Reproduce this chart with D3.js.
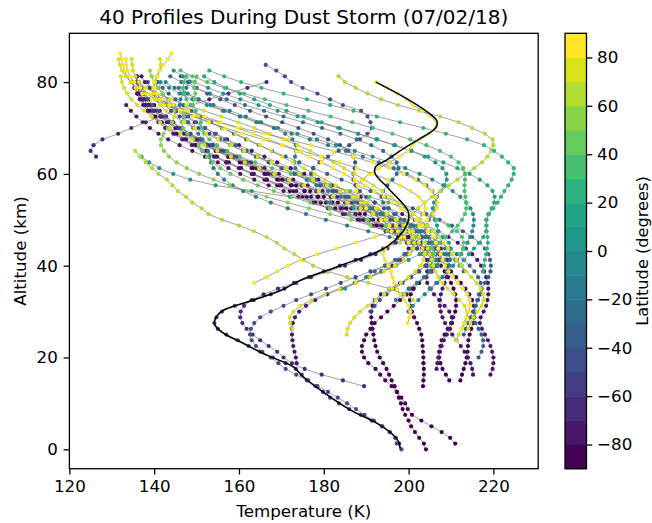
<!DOCTYPE html>
<html><head><meta charset="utf-8">
<script src="https://cdn.jsdelivr.net/npm/d3@7"></script>
<style>body{margin:0;background:#fff}svg{display:block}text{font-family:"DejaVu Sans",sans-serif;fill:#000}</style>
</head><body><svg id="c" width="652" height="523"></svg>
<script>
// Shared altitude grid (km)
const levels = [0,1.25,2.5,3.75,5,6.25,7.5,8.75,10,11.25,12.5,13.75,15,16.25,17.5,18.75,20,21.25,22.5,23.75,25,26.25,27.5,28.75,30,31.25,32.5,33.75,35,36.25,37.5,38.75,40,41.25,42.5,43.75,45,46.25,47.5,48.75,50,51.25,52.5,53.75,55,56.25,57.5,58.75,60,61.25,62.5,63.75,65,66.25,67.5,68.75,70,71.25,72.5,73.75,75,76.25,77.5,78.75,80,81.25,82.5,83.75,85,86.25];

// Latitude of each profile (degrees)
const profileLat = [-86,-84,-88,-85,-82,-78,-75,-72,-68,-71,-65,-55,-45,-38,-50,-42,-33,5,-5,15,-15,-25,0,-12,-20,68,25,62,45,38,50,32,85,80,78,75,82,72,76,86];
// Index in levels of each profile's lowest point
const profileStart = [1,0,11,12,12,13,13,14,11,15,51,0,1,20,24,28,16,32,28,32,26,30,28,31,24,36,31,26,32,34,36,34,22,36,20,19,21,21,21,29];
// Temperatures (K), bottom to top
const profileTemps = [
[211,209.8,207.8,205.4,203,200.8,199.8,199.2,198.3,197.2,196,194.5,193.3,192.2,190.5,189.5,189,189,189.5,190,191,192,193.5,195,196.5,198,199.5,201,202.5,204,205,205.5,205.5,205,204,202,199.5,196.5,193.5,190.5,187.5,184.5,181.5,178.5,175.5,172.5,169.5,166.5,163.5,160.5,157.5,154.5,152,149.5,147,145,143,141.5,140,139,138,137.2,136.5,136,135.8],
[204.1,203.6,202.5,201.5,200.6,200,199.2,198.6,198.2,197.7,197.3,196.7,196,195.4,194.8,194,193.2,192.6,192.2,191.9,191.7,191.5,191.3,191.2,191.2,191.5,192,193.5,195.5,198,200.5,202.5,204,205,205,204,202,199,195.5,192,188.5,185,181.5,178,175,172,169,166,163,160,157,154.5,152,149.5,147,145,143,141.5,140,138.8,137.8,137,136.6,136.3,136,135.9],
[203.4,203.5,203.6,203.6,203.5,203.5,203.4,203.3,203.2,203,202.5,202,201.3,200.8,200.4,200.3,200.5,201.2,202.3,203.8,205.3,206.5,207.2,207.2,206.5,204.8,202.5,199.5,196.2,193,189.7,186.5,183.3,180,176.8,173.5,170.3,167,164,161,158,155.2,152.5,150,147.6,145.4,143.4,141.6,140,138.6,137.5,136.6,136.1,135.9,135.8],
[209.6,208.8,208,207.5,207.2,207.2,207.5,207.8,208.5,209.2,210,210.5,211,211.2,211.2,211,210.6,210,209.3,208.5,207.6,206.4,205,203.2,201,198.5,195.6,192.5,189.3,186,182.7,179.3,176,172.8,169.6,166.5,163.5,160.5,157.6,154.8,152.2,149.8,147.5,145.4,143.5,141.8,140.3,139,137.8,136.8,136,135.3],
[212.2,212.6,213,213.4,213.7,213.9,214,214.1,214.4,214.8,215.2,215.5,215.6,215.4,215,214.3,213.4,212.3,211.2,210,208.8,207.5,206,204.3,202.3,200,197.4,194.6,191.6,188.5,185.3,182,178.7,175.4,172.2,169,166,163,160.2,157.5,155,152.6,150.4,148.3,146.3,144.5,142.8,141.3,140,138.8,137.8,137,136.4],
[219.3,219.8,220,220,219.7,219.3,218.7,218,217.3,216.8,217,217.7,218.3,218.6,218.8,218.8,218.7,218.3,217.8,217.1,216.2,215,213.5,211.6,209.4,207,204.3,201.5,198.5,195.3,192,188.7,185.3,182,178.7,175.4,172.2,169,166,163,160,157.2,154.5,152,149.6,147.4,145.3,143.4,141.7,140.2,138.9,137.8,137],
[215.2,215,214.6,214,213.2,212.3,211.3,210.3,209.4,208.6,208,207.6,207.4,207.4,207.6,208,208.5,209,209.3,209.4,209.2,208.6,207.6,206.2,204.3,202,199.4,196.5,193.4,190.1,186.7,183.2,179.7,176.2,172.8,169.4,166,162.8,159.7,156.7,153.8,151,148.5,146.2,144,142,140.2,138.6,137.3,136.2,135.4,134.8],
[206.6,206.8,207,207.4,207.8,208.3,209,209.8,210.3,210.2,209.6,208.5,207.2,206,205,204.4,204.2,204.4,204.5,204.2,203.4,202,200,197.5,194.6,191.4,188,184.5,181,177.5,174,170.5,167,163.6,160.3,157.5,155,152,149,146,143.3,141,139,137.3,135.8,134.5,133.4],
[189.5,184.5,179.5,175.5,172.5,170.5,169,167,165,163.2,161.8,160.8,160.3,160.4,161.2,163,165.8,169.2,173,177,181,185,188.8,192.2,195,197,198,197.8,196.5,194.3,191.5,188.3,185,181.6,178.2,174.8,171.4,168,164.8,161.6,158.6,155.7,152.9,150.3,147.8,145.5,143.4,141.5,139.8,138.4,137.4,136.6,136.1,135.9,135.9],
[173.6,173.4,173.1,172.8,172.6,172.5,172.5,172.7,173.2,174.2,175.8,178,180.8,184,187.3,190.6,193.6,196.2,198.2,199.5,200,199.6,198.3,196.3,193.8,190.8,187.5,184,180.5,177,173.5,170,166.6,163.3,160.1,157,154.1,151.4,148.9,146.6,144.5,142.6,141,139.6,138.4,137.4,136.6,136,135.5],
[126.3,125,125.7,127.8,131.5,134.6,138,141.5,145,149,153,157.5,162,166.5],
[198.3,197.8,197,195.6,193.7,191.3,188.7,186,183.6,181.5,179.8,178.1,176.3,174.8,173.4,171,168,165,162.3,159.7,157,155,154.2,154.7,156,159,163.5,167.5,170.7,173.5,176.5,180,183.8,187.5,191,194,196.5,198,198.5,198,196.5,194,191,188,185,182,179,176,173,170,167,164,161,158,155.5,153,150.5,148,146,144,142.5,141,140,139,138.5],
[197.2,196.8,195.5,193.8,191.8,189.6,187.6,185.5,183.3,181,178.5,176,173.5,171,169.3,167.5,165.5,164,163,162.6,162.8,163.6,165,167.5,170.5,173.5,177,180.5,184,187.5,191,194.5,197.5,200,202,203,203.2,202.5,200.5,198,195,192,189,186,183,180.5,178,177,177.5,179,181,183.5,186,188.5,190.3,191.3,191,190.3,188.8,184.5,181.5,178.5,175,172.3,170.8,168.8,166.3],
[213,213.5,214,214.6,215.2,215.8,216.2,216.6,217.2,218,218.8,219.3,219.4,219.2,218.8,218,216.8,215,212.8,210.2,207.3,204.2,201,197.7,194.4,191,187.6,184.2,180.8,177.5,174.2,171,167.8,164.7,161.7,158.8,156,153.4,151,148.8,146.8,145,143.4,142,140.8],
[191,192,193.2,194.8,196.6,198.6,200.6,202.4,204,205.2,206,206.2,205.8,204.8,203.2,201.2,199,196.6,194.2,192,190,188.5,187.5,187,187,187.3,187.4,187,185.8,183.8,181,177.6,174,170.2,166.4,162.6,159,155.6,152.5,150,148,146.3],
[200,202,204,205.6,206.8,207.5,207.6,207,205.8,204,201.6,198.8,195.7,192.4,189,185.5,182,178.5,175,171.6,168.3,165.1,162,159,156.2,153.5,151,148.6,146.4,144.4,142.6,141,139.6,138.4,137.4,136.6,136,135.6],
[216.5,217.2,217.6,217.6,217.2,216.5,215.8,215.4,215.4,215.8,216.4,217,217.2,217,216.4,215.5,214.4,213,211.4,209.6,207.6,205.4,203,200.4,197.6,194.7,191.7,188.6,185.5,182.4,179.3,176.2,173.2,170.2,167.3,164.5,161.8,159.2,156.7,154.3,152,149.9,148,146.2,144.6,143.2,142,141,140.2],
[207,208.5,209.5,210,209.5,208,205.5,202,197.5,192.5,187,181.5,172,163,154.5,148.5,144.5,141.2,138.8,137],
[205,206.5,208,209.3,210.5,211.5,212.4,213.2,213.9,214.5,215,215.3,215.4,215.2,214.6,213.6,212.2,210.4,208.2,205.6,202.6,199.2,195.5,191.5,187.3,182.9,178.4,173.8,169.2,164.7,160.3,156.2,152.4,149,146,143.5,141.5],
[212,213,214.2,215.4,216.6,217.6,218.3,218.4,218.3,218.8,219.6,220.2,220.3,219.8,218.6,216.8,214.4,211.5,208.2,204.6,200.7,196.6,192.4,188.1,183.8,179.5,175.3,171.2,167.3,163.6,160.2,157,154.2,151.8],
[197,198.5,200.2,202,203.6,205,206,206.5,206.4,205.8,205,204.3,204,204.2,204.8,205.6,206.3,206.6,206.4,205.6,204.2,202.2,199.6,196.5,193,189.2,185.2,181,176.7,172.4,168.2,164.1,160.2,156.6,153.3,150.4,147.9,145.8],
[190,192,194.4,196.8,199,200.8,202,202.4,202,200.8,199,197,195.2,194,193.6,194,195,196.2,197.2,197.6,197.2,196,194,191.2,187.8,183.9,179.6,175.1,170.5,165.9,161.4,157.1,153.1,149.5,146.4,143.8],
[185,187.5,190.5,193.8,197,200,202.6,204.6,206,206.8,207,206.7,206.2,205.8,205.7,206,206.7,207.6,208.5,209,208.9,208,206.3,203.8,200.6,196.8,192.6,188.1,183.4,178.6,173.8,169.1,164.6,160.3,156.3,152.7,149.5,146.8,144.6],
[213,212.5,211,208.5,205,200.5,195.5,190.5,185.5,180.5,175.8,171.5,167.5,164,161,158.5,156.5,155,154,153.4,153,152.7,152.2,151.4,150.4,149.2,148,147,146.3,146,146.2,146.8,147.6,148.4],
[200,201,202.3,203.8,205.3,206.8,208,209,209.6,209.8,209.5,208.6,207.2,205.2,202.8,200,197,193.8,190.5,187.2,184,181,178.3,176,174.3,173.3,173,173.2,173.5,173.4,172.6,170.9,168.4,165.2,161.6,157.8,154,150.5,147.4,144.8,142.7],
[198,198.2,198.6,199.2,200,201,202.3,203.8,205.5,207.5,209.5,211.5,213.5,215.5,217.3,218.6,219.5,220,219.8,218,215,211.8,207.5,202.5,197.5,193.5,190.3,187.5,185,183.5],
[217.5,217.8,218,218.3,218.5,218.7,218.6,218.4,218.3,218.4,219,220,221,221.8,222.6,223.5,224.3,224.8,224.8,223.5,222,220.2,217.8,213.8,208.8,203.5,198,192.5,187,181.5,176,170.5,165.3,160.5,156.5,153],
[201,199,195.5,190.5,185.5,181,177.5,175.3,173,170.7,168.9,166.5,163.5,160,156,152.8,151.2,149,147.5,145.6,144.3,143,141,139.5,138,136.7,135.5],
[205,205.8,206,205.5,204,201.6,198.4,194.6,190.4,186,181.4,176.8,172.4,168.2,164.4,161,158,155.6,153.8,152.5,151.5,150.5,149.2,147.8,146.8,146.5,147,148,149,149.6,149.7,149.5,149.6,150],
[212,212.8,213,212.6,211.4,209.4,206.6,203.2,199.4,195.2,190.8,186.2,181.5,176.8,172.2,167.8,163.8,160.2,157.2,154.8,153,151.8,151.2,151,150.6,149.8,148.6,147.6,147,146.8,147,147.6],
[200,198,195,191,186.5,181.5,176.5,171.5,166.5,162,157.8,154,150.6,147.7,145.3,143.5,142.3,141.6,141.6,142.2,143.2,144.2,144.8,144.8,144.2,143.2,142,140.9,140,139.4,139],
[204,205.5,207.2,208.8,210.3,211.6,212.6,213.3,213.6,213.6,213.4,213.2,213.2,213.3,213.3,212.9,211.8,210,207.4,204.2,200.4,196.2,191.6,186.7,181.6,176.4,171.2,166.1,161.2,156.6,152.5,149,146.2],
[199.8,200.2,200.4,200,199,198,197.3,196.6,196.2,195.8,195.2,194.4,194,194.5,196,198,200.3,202.5,204.4,205.8,206.6,206.8,206.4,205.4,203.8,201.6,198.8,195.4,191.4,187,182.2,177,171.6,166,160.5,155.2,150.3,146,142.4,139.4,137.2,135.6,134.4,133.6,133,132.6,132.3,132],
[200,199,197.5,195.5,193.5,191.6,190,188.8,188,187.7,188,189,190.7,193,195.5,197.8,199.8,200.8,202.5,204.8,206.3,206.6,205.3,203.2,201,199.5,197.5,195,192.3],
[185.4,185.6,186.2,187.2,188.6,190.3,192.2,194.2,196.2,198.2,200,201.6,202.8,203.5,203.7,203.3,202.4,201,199.2,197,194.5,191.7,188.7,185.5,182.2,178.8,175.3,171.8,168.3,164.8,161.4,158.1,154.9,151.8,148.9,146.2,143.7,141.4,139.4,137.6,136,134.6,133.6,132.9,132.4,132.1],
[211.3,211.8,212.5,213.3,213.8,213.8,213.2,212,210.6,209.2,208,207,206.3,205.8,205.4,205,204.5,203.7,202.5,201,199.2,197.2,195,192.7,190.3,187.8,185.3,182.8,180.3,177.8,175.3,172.8,170.2,167.6,164.9,162.1,159.2,156.2,153,149.8,146.6,143.5,140.6,138,136,134.5,133.3,132.4,131.9,131.6],
[212.5,213,213.6,214.2,214.5,214.4,213.8,212.8,211.6,210.4,209.4,208.6,208,207.5,207,206.4,205.6,204.5,203.2,201.7,200,198.2,196.3,194.2,192,189.7,187.3,184.8,182.2,179.5,176.6,173.6,170.4,167,163.4,159.6,155.7,151.8,148,144.5,141.4,138.8,136.8,135.3,134.3,133.7,133.4,133.3],
[214.1,214.6,215.3,216.2,217.2,217.7,217.6,217,216,214.8,213.6,212.4,211.3,210.3,209.3,208.2,207,205.7,204.3,202.8,201.2,199.5,197.7,195.8,193.8,191.7,189.5,187.2,184.8,182.3,179.6,176.8,173.8,170.6,167.2,163.6,159.8,155.8,151.7,147.6,143.8,140.5,138,136.4,135.5,135,134.8,134.7],
[172.6,172,172,172.8,174.5,177,180.2,183.8,187.5,191,194.2,196.8,198.8,200.2,201,201.3,201,200.2,198.8,197,194.8,192.3,189.6,186.8,183.8,180.7,177.5,174.3,171,167.7,164.4,161.2,158.1,155.1,152.2,149.5,147,144.7,142.8,141.3,140.3,139.8,139.8,140.2,140.8,141.3,141.5,141.4],
[163.6,166.5,169,171.5,174.5,178.5,183,187.5,192,196,199.5,202,203.5,204,203.6,202.4,200.5,198,195,191.6,187.8,183.7,179.3,174.8,170.2,165.6,161.1,156.8,152.8,149.2,146.1,143.6,141.8,140.6,140,140,140.5,141.2,142.2,143.2,144.1]
];

// Highlighted reference profile (black curve)
const blackAlt = [0.2,1.7,3.1,5.7,8.6,12.5,15.8,18,20.5,23.1,25.3,27.1,28.2,30.3,31.8,34.7,36.8,40,44.1,48.9,51.8,56.5,60.1,61.5,63,65.5,67.7,69.2,70.3,71.7,72.8,74.6,77.2,80];
const blackT = [198,197.6,196.4,192.5,186.2,179.8,175.1,172.8,166.5,161,156.3,154.3,154.3,156.3,161,170.1,174.4,183.8,194.8,199.6,199.9,195.6,192.1,192.2,194.8,198.8,202.7,205.4,206.6,206.6,205.4,202.7,198,192.3];

const xTicks = [120,140,160,180,200,220];
const yTicks = [0,20,40,60,80];
const cbTicks = [-80,-60,-40,-20,0,20,40,60,80];
const latBounds = [-90,-80,-70,-60,-50,-40,-30,-20,-10,0,10,20,30,40,50,60,70,80,90];

const L=69.4,R=538.2,T=33.3,B=468.7;
const x=d3.scaleLinear().domain([120,230.57]).range([L,R]);
const y=d3.scaleLinear().domain([-4.23,90.63]).range([B,T]);
const nb = latBounds.length-1;
const binColors = d3.range(nb).map(i=>d3.interpolateViridis(i/(nb-1)));
const color = d3.scaleThreshold().domain(latBounds.slice(1,-1)).range(binColors);

const svg=d3.select('#c');
svg.append('rect').attr('width',652).attr('height',523).attr('fill','#fff');
svg.append('defs').append('clipPath').attr('id','clip').append('rect')
  .attr('x',L).attr('y',T).attr('width',R-L).attr('height',B-T);

const plot=svg.append('g').attr('clip-path','url(#clip)');
const line=d3.line().x(d=>x(d[0])).y(d=>y(d[1]));
profileTemps.forEach((temps,i)=>{
  const pts=temps.map((t,j)=>[t,levels[profileStart[i]+j]]);
  plot.append('path').attr('d',line(pts)).attr('fill','none')
    .attr('stroke','#808080').attr('stroke-width',0.75);
  plot.append('g').selectAll('circle').data(pts).join('circle')
    .attr('cx',d=>x(d[0])).attr('cy',d=>y(d[1])).attr('r',2.1)
    .attr('fill',color(profileLat[i]));
});
const bpts=blackT.map((t,j)=>[t,blackAlt[j]]);
plot.append('path').attr('d',d3.line().x(d=>x(d[0])).y(d=>y(d[1])).curve(d3.curveCatmullRom.alpha(0.5))(bpts))
  .attr('fill','none').attr('stroke','#000').attr('stroke-width',1.5);

// axes
const fs='16.7px', tk=5.8;
const xa=svg.append('g').attr('transform',`translate(0,${B})`)
  .call(d3.axisBottom(x).tickValues(xTicks).tickSize(tk).tickPadding(5.3).tickFormat(d3.format('d')));
const ya=svg.append('g').attr('transform',`translate(${L},0)`)
  .call(d3.axisLeft(y).tickValues(yTicks).tickSize(tk).tickPadding(5.8).tickFormat(d3.format('d')));
[xa,ya].forEach(g=>{g.select('.domain').remove();g.selectAll('line').attr('stroke','#000').attr('stroke-width',1.3);
  g.selectAll('text').attr('font-size',fs).attr('font-family','DejaVu Sans').attr('fill','#000');});
svg.append('rect').attr('x',L).attr('y',T).attr('width',R-L).attr('height',B-T)
  .attr('fill','none').attr('stroke','#000').attr('stroke-width',1.3);

svg.append('text').attr('x',(L+R)/2).attr('y',24).attr('text-anchor','middle')
  .attr('font-size','20px').text('40 Profiles During Dust Storm (07/02/18)');
svg.append('text').attr('x',(L+R)/2).attr('y',517).attr('text-anchor','middle')
  .attr('font-size',fs).text('Temperature (K)');
svg.append('text').attr('transform',`translate(26,${(T+B)/2}) rotate(-90)`).attr('text-anchor','middle')
  .attr('font-size',fs).text('Altitude (km)');

// colorbar
const cbL=565,cbW=21.5;
const cy=d3.scaleLinear().domain([-90,90]).range([B,T]);
const cb=svg.append('g');
cb.selectAll('rect').data(d3.range(nb)).join('rect')
  .attr('x',cbL).attr('width',cbW)
  .attr('y',i=>cy(latBounds[i+1])).attr('height',i=>cy(latBounds[i])-cy(latBounds[i+1])+0.5)
  .attr('fill',i=>binColors[i]);
cb.append('rect').attr('x',cbL).attr('y',T).attr('width',cbW).attr('height',B-T)
  .attr('fill','none').attr('stroke','#000').attr('stroke-width',1.3);
const ca=svg.append('g').attr('transform',`translate(${cbL+cbW},0)`)
  .call(d3.axisRight(cy).tickValues(cbTicks).tickSize(tk).tickPadding(4.8).tickFormat(d3.format('d')));
ca.select('.domain').remove();
ca.selectAll('line').attr('stroke','#000').attr('stroke-width',1.3);
ca.selectAll('text').attr('font-size',fs).attr('font-family','DejaVu Sans').attr('fill','#000');
svg.append('text').attr('transform',`translate(647.5,${(T+B)/2}) rotate(-90)`).attr('text-anchor','middle')
  .attr('font-size','16.2px').text('Latitude (degrees)');
</script></body></html>
